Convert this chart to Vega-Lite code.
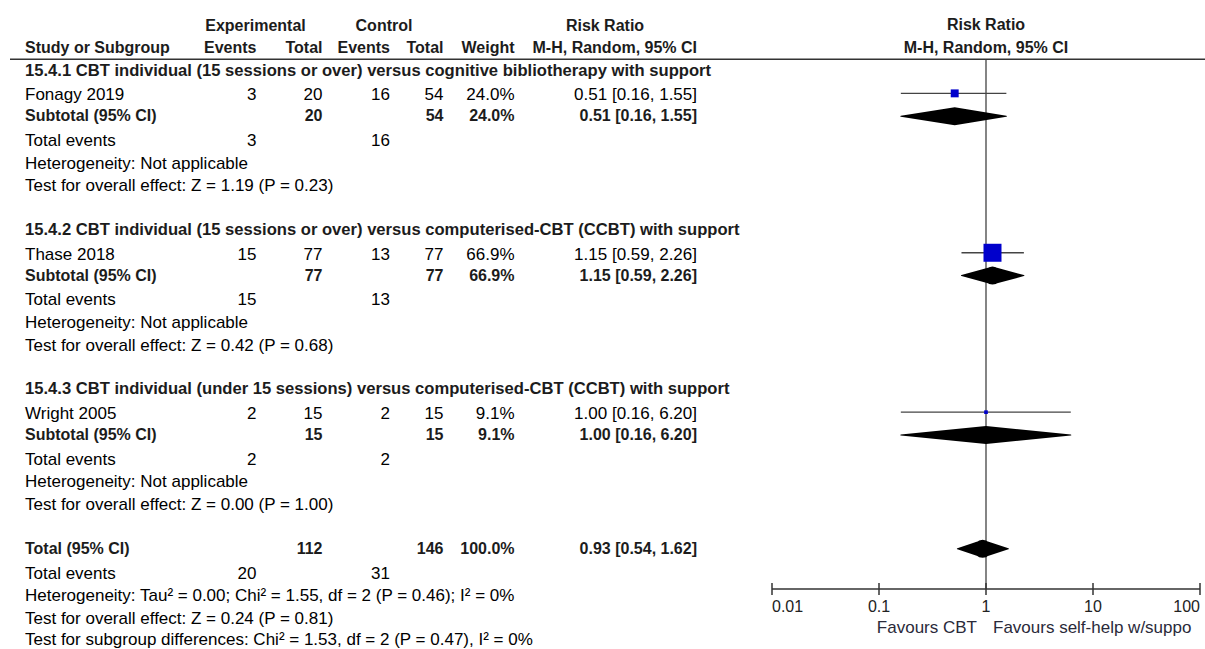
{
  "$schema": "https://vega.github.io/schema/vega-lite/v6.json",
  "width": 1205,
  "height": 649,
  "autosize": {"type": "none"},
  "padding": 0,
  "background": "white",
  "config": {"view": {"stroke": null}, "font": "Liberation Sans"},
  "datasets": {
    "table": [
      {"line": 1, "kind": "colhead", "name": "Study or Subgroup", "expEv": "Events", "expTot": "Total", "ctlEv": "Events", "ctlTot": "Total", "weight": "Weight", "ci": "M-H, Random, 95% CI"},
      {"line": 2, "kind": "heading", "name": "15.4.1 CBT individual (15 sessions or over) versus cognitive bibliotherapy with support"},
      {"line": 3, "kind": "study", "name": "Fonagy 2019", "expEv": 3, "expTot": 20, "ctlEv": 16, "ctlTot": 54, "weight": "24.0%", "ci": "0.51 [0.16, 1.55]"},
      {"line": 4, "kind": "subtotal", "name": "Subtotal (95% CI)", "expTot": 20, "ctlTot": 54, "weight": "24.0%", "ci": "0.51 [0.16, 1.55]"},
      {"line": 5, "kind": "events", "name": "Total events", "expEv": 3, "ctlEv": 16},
      {"line": 6, "kind": "note", "name": "Heterogeneity: Not applicable"},
      {"line": 7, "kind": "note", "name": "Test for overall effect: Z = 1.19 (P = 0.23)"},
      {"line": 9, "kind": "heading", "name": "15.4.2 CBT individual (15 sessions or over) versus computerised-CBT (CCBT) with support"},
      {"line": 10, "kind": "study", "name": "Thase 2018", "expEv": 15, "expTot": 77, "ctlEv": 13, "ctlTot": 77, "weight": "66.9%", "ci": "1.15 [0.59, 2.26]"},
      {"line": 11, "kind": "subtotal", "name": "Subtotal (95% CI)", "expTot": 77, "ctlTot": 77, "weight": "66.9%", "ci": "1.15 [0.59, 2.26]"},
      {"line": 12, "kind": "events", "name": "Total events", "expEv": 15, "ctlEv": 13},
      {"line": 13, "kind": "note", "name": "Heterogeneity: Not applicable"},
      {"line": 14, "kind": "note", "name": "Test for overall effect: Z = 0.42 (P = 0.68)"},
      {"line": 16, "kind": "heading", "name": "15.4.3 CBT individual (under 15 sessions) versus computerised-CBT (CCBT) with support"},
      {"line": 17, "kind": "study", "name": "Wright 2005", "expEv": 2, "expTot": 15, "ctlEv": 2, "ctlTot": 15, "weight": "9.1%", "ci": "1.00 [0.16, 6.20]"},
      {"line": 18, "kind": "subtotal", "name": "Subtotal (95% CI)", "expTot": 15, "ctlTot": 15, "weight": "9.1%", "ci": "1.00 [0.16, 6.20]"},
      {"line": 19, "kind": "events", "name": "Total events", "expEv": 2, "ctlEv": 2},
      {"line": 20, "kind": "note", "name": "Heterogeneity: Not applicable"},
      {"line": 21, "kind": "note", "name": "Test for overall effect: Z = 0.00 (P = 1.00)"},
      {"line": 23, "kind": "total", "name": "Total (95% CI)", "expTot": 112, "ctlTot": 146, "weight": "100.0%", "ci": "0.93 [0.54, 1.62]"},
      {"line": 24, "kind": "events", "name": "Total events", "expEv": 20, "ctlEv": 31},
      {"line": 25, "kind": "note", "name": "Heterogeneity: Tau² = 0.00; Chi² = 1.55, df = 2 (P = 0.46); I² = 0%"},
      {"line": 26, "kind": "note", "name": "Test for overall effect: Z = 0.24 (P = 0.81)"},
      {"line": 27, "kind": "note", "name": "Test for subgroup differences: Chi² = 1.53, df = 2 (P = 0.47), I² = 0%"}
    ],
    "cols": [
      {"col": "expHead", "ix": 2},
      {"col": "expEv", "ix": 3},
      {"col": "expTot", "ix": 4},
      {"col": "ctlHead", "ix": 5},
      {"col": "ctlEv", "ix": 6},
      {"col": "ctlTot", "ix": 7},
      {"col": "weight", "ix": 8},
      {"col": "rrHead", "ix": 9},
      {"col": "ci", "ix": 10}
    ],
    "heads": [
      {"line": 0, "col": "expHead", "text": "Experimental"},
      {"line": 0, "col": "ctlHead", "text": "Control"},
      {"line": 0, "col": "rrHead", "text": "Risk Ratio"}
    ],
    "plothead": [
      {"line": 0, "text": "Risk Ratio"},
      {"line": 1, "text": "M-H, Random, 95% CI"}
    ],
    "studies": [
      {"line": 3, "study": "Fonagy 2019", "est": 0.51, "lo": 0.16, "hi": 1.55, "w": 24.0},
      {"line": 10, "study": "Thase 2018", "est": 1.15, "lo": 0.59, "hi": 2.26, "w": 66.9},
      {"line": 17, "study": "Wright 2005", "est": 1.00, "lo": 0.16, "hi": 6.20, "w": 9.1}
    ],
    "pooled": [
      {"line": 4, "id": "15.4.1", "lo": 0.16, "est": 0.51, "hi": 1.55},
      {"line": 11, "id": "15.4.2", "lo": 0.59, "est": 1.15, "hi": 2.26},
      {"line": 18, "id": "15.4.3", "lo": 0.16, "est": 1.00, "hi": 6.20},
      {"line": 23, "id": "total", "lo": 0.54, "est": 0.93, "hi": 1.62}
    ],
    "ticks": [{"v": 0.01}, {"v": 0.1}, {"v": 1}, {"v": 10}, {"v": 100}]
  },
  "resolve": {"scale": {"x": "independent"}},
  "layer": [
    {
      "layer": [
        {
          "data": {"values": [{}]},
          "mark": {"type": "rule", "stroke": "#333333", "strokeWidth": 1.5},
          "encoding": {
            "x": {"datum": 0, "type": "quantitative", "scale": {"domain": [0,1,2,3,4,5,6,7,8,9,10,11], "range": [10,25,255.5,256.5,322.5,384,390,443.5,514.5,605,697,1205], "nice": false, "zero": false}, "axis": null},
            "x2": {"datum": 11},
            "y": {"datum": 1.5, "type": "quantitative", "scale": {"domain": [-1.1, 27.4], "reverse": true, "nice": false, "zero": false}, "axis": null}
          }
        },
        {
          "data": {"name": "table"},
          "transform": [{"filter": {"field": "kind", "oneOf": ["study", "events", "note"]}}, {"filter": "datum.line < 27"}],
          "mark": {"type": "text", "align": "left", "baseline": "middle", "dy": 2, "font": "Liberation Sans", "fontSize": 17, "color": "#000000"},
          "encoding": {
            "x": {"datum": 1, "type": "quantitative", "scale": {"domain": [0,1,2,3,4,5,6,7,8,9,10,11], "range": [10,25,255.5,256.5,322.5,384,390,443.5,514.5,605,697,1205], "nice": false, "zero": false}, "axis": null},
            "y": {"field": "line", "type": "quantitative", "scale": {"domain": [-1.1, 27.4], "reverse": true, "nice": false, "zero": false}, "axis": null},
            "text": {"field": "name"}
          }
        },
        {
          "data": {"name": "table"},
          "transform": [{"filter": "datum.line === 27"}],
          "mark": {"type": "text", "align": "left", "baseline": "middle", "dy": 0, "font": "Liberation Sans", "fontSize": 17, "color": "#000000"},
          "encoding": {
            "x": {"datum": 1, "type": "quantitative", "scale": {"domain": [0,1,2,3,4,5,6,7,8,9,10,11], "range": [10,25,255.5,256.5,322.5,384,390,443.5,514.5,605,697,1205], "nice": false, "zero": false}, "axis": null},
            "y": {"field": "line", "type": "quantitative", "scale": {"domain": [-1.1, 27.4], "reverse": true, "nice": false, "zero": false}, "axis": null},
            "text": {"field": "name"}
          }
        },
        {
          "data": {"name": "table"},
          "transform": [{"filter": {"field": "kind", "oneOf": ["colhead", "subtotal", "total"]}}],
          "mark": {"type": "text", "align": "left", "baseline": "middle", "font": "Liberation Sans", "fontSize": 16, "fontWeight": "bold", "color": "#1c1c1c"},
          "encoding": {
            "x": {"datum": 1, "type": "quantitative", "scale": {"domain": [0,1,2,3,4,5,6,7,8,9,10,11], "range": [10,25,255.5,256.5,322.5,384,390,443.5,514.5,605,697,1205], "nice": false, "zero": false}, "axis": null},
            "y": {"field": "line", "type": "quantitative", "scale": {"domain": [-1.1, 27.4], "reverse": true, "nice": false, "zero": false}, "axis": null},
            "text": {"field": "name"}
          }
        },
        {
          "data": {"name": "table"},
          "transform": [{"filter": {"field": "kind", "oneOf": ["heading"]}}],
          "mark": {"type": "text", "align": "left", "baseline": "middle", "font": "Liberation Sans", "fontSize": 16.6, "fontWeight": "bold", "color": "#1c1c1c"},
          "encoding": {
            "x": {"datum": 1, "type": "quantitative", "scale": {"domain": [0,1,2,3,4,5,6,7,8,9,10,11], "range": [10,25,255.5,256.5,322.5,384,390,443.5,514.5,605,697,1205], "nice": false, "zero": false}, "axis": null},
            "y": {"field": "line", "type": "quantitative", "scale": {"domain": [-1.1, 27.4], "reverse": true, "nice": false, "zero": false}, "axis": null},
            "text": {"field": "name"}
          }
        },
        {
          "data": {"name": "table"},
          "transform": [
            {"filter": {"field": "kind", "oneOf": ["study", "events"]}},
            {"fold": ["expEv", "expTot", "ctlEv", "ctlTot", "weight", "ci"], "as": ["col", "val"]},
            {"filter": "isValid(datum.val)"},
            {"lookup": "col", "from": {"data": {"name": "cols"}, "key": "col", "fields": ["ix"]}}
          ],
          "mark": {"type": "text", "align": "right", "baseline": "middle", "dy": 2, "font": "Liberation Sans", "fontSize": 17, "color": "#000000"},
          "encoding": {
            "x": {"field": "ix", "type": "quantitative", "scale": {"domain": [0,1,2,3,4,5,6,7,8,9,10,11], "range": [10,25,255.5,256.5,322.5,384,390,443.5,514.5,605,697,1205], "nice": false, "zero": false}, "axis": null},
            "y": {"field": "line", "type": "quantitative", "scale": {"domain": [-1.1, 27.4], "reverse": true, "nice": false, "zero": false}, "axis": null},
            "text": {"field": "val"}
          }
        },
        {
          "data": {"name": "table"},
          "transform": [
            {"filter": {"field": "kind", "oneOf": ["colhead", "subtotal", "total"]}},
            {"fold": ["expEv", "expTot", "ctlEv", "ctlTot", "weight", "ci"], "as": ["col", "val"]},
            {"filter": "isValid(datum.val)"},
            {"lookup": "col", "from": {"data": {"name": "cols"}, "key": "col", "fields": ["ix"]}}
          ],
          "mark": {"type": "text", "align": "right", "baseline": "middle", "font": "Liberation Sans", "fontSize": 16, "fontWeight": "bold", "color": "#1c1c1c"},
          "encoding": {
            "x": {"field": "ix", "type": "quantitative", "scale": {"domain": [0,1,2,3,4,5,6,7,8,9,10,11], "range": [10,25,255.5,256.5,322.5,384,390,443.5,514.5,605,697,1205], "nice": false, "zero": false}, "axis": null},
            "y": {"field": "line", "type": "quantitative", "scale": {"domain": [-1.1, 27.4], "reverse": true, "nice": false, "zero": false}, "axis": null},
            "text": {"field": "val"}
          }
        },
        {
          "data": {"name": "heads"},
          "transform": [{"lookup": "col", "from": {"data": {"name": "cols"}, "key": "col", "fields": ["ix"]}}],
          "mark": {"type": "text", "align": "center", "baseline": "middle", "dy": 1, "font": "Liberation Sans", "fontSize": 16, "fontWeight": "bold", "color": "#1c1c1c"},
          "encoding": {
            "x": {"field": "ix", "type": "quantitative", "scale": {"domain": [0,1,2,3,4,5,6,7,8,9,10,11], "range": [10,25,255.5,256.5,322.5,384,390,443.5,514.5,605,697,1205], "nice": false, "zero": false}, "axis": null},
            "y": {"field": "line", "type": "quantitative", "scale": {"domain": [-1.1, 27.4], "reverse": true, "nice": false, "zero": false}, "axis": null},
            "text": {"field": "text"}
          }
        }
      ]
    },
    {
      "layer": [
        {
          "data": {"values": [{}]},
          "mark": {"type": "rule", "stroke": "#333333", "strokeWidth": 1.2},
          "encoding": {
            "x": {"datum": 1, "type": "quantitative", "scale": {"type": "log", "domain": [0.01, 100], "range": [772, 1200], "nice": false}, "axis": null},
            "y": {"datum": 1.5, "type": "quantitative", "scale": {"domain": [-1.1, 27.4], "reverse": true, "nice": false, "zero": false}, "axis": null},
            "y2": {"datum": 24.77}
          }
        },
        {
          "data": {"values": [{}]},
          "mark": {"type": "rule", "stroke": "#333333", "strokeWidth": 1.5},
          "encoding": {
            "x": {"datum": 0.01, "type": "quantitative", "scale": {"type": "log", "domain": [0.01, 100], "range": [772, 1200], "nice": false}, "axis": null},
            "x2": {"datum": 100},
            "y": {"datum": 24.77, "type": "quantitative", "scale": {"domain": [-1.1, 27.4], "reverse": true, "nice": false, "zero": false}, "axis": null}
          }
        },
        {
          "data": {"name": "studies"},
          "mark": {"type": "rule", "stroke": "#444444", "strokeWidth": 1.4},
          "encoding": {
            "x": {"field": "lo", "type": "quantitative", "scale": {"type": "log", "domain": [0.01, 100], "range": [772, 1200], "nice": false}, "axis": null},
            "x2": {"field": "hi"},
            "y": {"field": "line", "type": "quantitative", "scale": {"domain": [-1.1, 27.4], "reverse": true, "nice": false, "zero": false}, "axis": null}
          }
        },
        {
          "data": {"name": "pooled"},
          "transform": [{"fold": ["lo", "est", "hi"], "as": ["pt", "rr"]}],
          "mark": {"type": "trail", "color": "#000000"},
          "encoding": {
            "x": {"field": "rr", "type": "quantitative", "scale": {"type": "log", "domain": [0.01, 100], "range": [772, 1200], "nice": false}, "axis": null},
            "y": {"field": "line", "type": "quantitative", "scale": {"domain": [-1.1, 27.4], "reverse": true, "nice": false, "zero": false}, "axis": null},
            "detail": {"field": "id"},
            "size": {"condition": {"test": "datum.pt === 'est'", "value": 18}, "value": 0}
          }
        },
        {
          "data": {"name": "studies"},
          "mark": {"type": "point", "shape": "square", "filled": true, "color": "#0000cc", "opacity": 1, "strokeWidth": 0},
          "encoding": {
            "x": {"field": "est", "type": "quantitative", "scale": {"type": "log", "domain": [0.01, 100], "range": [772, 1200], "nice": false}, "axis": null},
            "y": {"field": "line", "type": "quantitative", "scale": {"domain": [-1.1, 27.4], "reverse": true, "nice": false, "zero": false}, "axis": null},
            "size": {"field": "w", "type": "quantitative", "scale": {"type": "pow", "exponent": 1.6, "domain": [0, 66.9], "range": [0, 324]}, "legend": null}
          }
        },
        {
          "data": {"name": "ticks"},
          "mark": {"type": "rule", "stroke": "#333333", "strokeWidth": 1.5},
          "encoding": {
            "x": {"field": "v", "type": "quantitative", "scale": {"type": "log", "domain": [0.01, 100], "range": [772, 1200], "nice": false}, "axis": null},
            "y": {"datum": 24.5, "type": "quantitative", "scale": {"domain": [-1.1, 27.4], "reverse": true, "nice": false, "zero": false}, "axis": null},
            "y2": {"datum": 25.03}
          }
        },
        {
          "data": {"name": "ticks"},
          "transform": [{"filter": "datum.v === 0.01"}],
          "mark": {"type": "text", "align": "left", "baseline": "middle", "dy": 1, "font": "Liberation Sans", "fontSize": 16, "color": "#222222"},
          "encoding": {
            "x": {"field": "v", "type": "quantitative", "scale": {"type": "log", "domain": [0.01, 100], "range": [772, 1200], "nice": false}, "axis": null},
            "y": {"datum": 25.5, "type": "quantitative", "scale": {"domain": [-1.1, 27.4], "reverse": true, "nice": false, "zero": false}, "axis": null},
            "text": {"field": "v", "type": "quantitative", "format": "~g"}
          }
        },
        {
          "data": {"name": "ticks"},
          "transform": [{"filter": "datum.v > 0.01 && datum.v < 100"}],
          "mark": {"type": "text", "align": "center", "baseline": "middle", "dy": 1, "font": "Liberation Sans", "fontSize": 16, "color": "#222222"},
          "encoding": {
            "x": {"field": "v", "type": "quantitative", "scale": {"type": "log", "domain": [0.01, 100], "range": [772, 1200], "nice": false}, "axis": null},
            "y": {"datum": 25.5, "type": "quantitative", "scale": {"domain": [-1.1, 27.4], "reverse": true, "nice": false, "zero": false}, "axis": null},
            "text": {"field": "v", "type": "quantitative", "format": "~g"}
          }
        },
        {
          "data": {"name": "ticks"},
          "transform": [{"filter": "datum.v === 100"}],
          "mark": {"type": "text", "align": "right", "baseline": "middle", "dy": 1, "font": "Liberation Sans", "fontSize": 16, "color": "#222222"},
          "encoding": {
            "x": {"field": "v", "type": "quantitative", "scale": {"type": "log", "domain": [0.01, 100], "range": [772, 1200], "nice": false}, "axis": null},
            "y": {"datum": 25.5, "type": "quantitative", "scale": {"domain": [-1.1, 27.4], "reverse": true, "nice": false, "zero": false}, "axis": null},
            "text": {"field": "v", "type": "quantitative", "format": "~g"}
          }
        },
        {
          "data": {"name": "plothead"},
          "mark": {"type": "text", "align": "center", "baseline": "middle", "font": "Liberation Sans", "fontSize": 16, "fontWeight": "bold", "color": "#1c1c1c"},
          "encoding": {
            "x": {"datum": 1, "type": "quantitative", "scale": {"type": "log", "domain": [0.01, 100], "range": [772, 1200], "nice": false}, "axis": null},
            "y": {"field": "line", "type": "quantitative", "scale": {"domain": [-1.1, 27.4], "reverse": true, "nice": false, "zero": false}, "axis": null},
            "text": {"field": "text"}
          }
        },
        {
          "data": {"values": [{"text": "Favours CBT"}]},
          "mark": {"type": "text", "align": "right", "baseline": "middle", "dx": -9, "dy": 2, "font": "Liberation Sans", "fontSize": 17, "color": "#2a2a3a"},
          "encoding": {
            "x": {"datum": 1, "type": "quantitative", "scale": {"type": "log", "domain": [0.01, 100], "range": [772, 1200], "nice": false}, "axis": null},
            "y": {"datum": 26.41, "type": "quantitative", "scale": {"domain": [-1.1, 27.4], "reverse": true, "nice": false, "zero": false}, "axis": null},
            "text": {"field": "text"}
          }
        },
        {
          "data": {"values": [{"text": "Favours self-help w/suppo"}]},
          "mark": {"type": "text", "align": "left", "baseline": "middle", "dx": 7, "dy": 2, "font": "Liberation Sans", "fontSize": 17, "color": "#2a2a3a"},
          "encoding": {
            "x": {"datum": 1, "type": "quantitative", "scale": {"type": "log", "domain": [0.01, 100], "range": [772, 1200], "nice": false}, "axis": null},
            "y": {"datum": 26.41, "type": "quantitative", "scale": {"domain": [-1.1, 27.4], "reverse": true, "nice": false, "zero": false}, "axis": null},
            "text": {"field": "text"}
          }
        }
      ]
    }
  ]
}
